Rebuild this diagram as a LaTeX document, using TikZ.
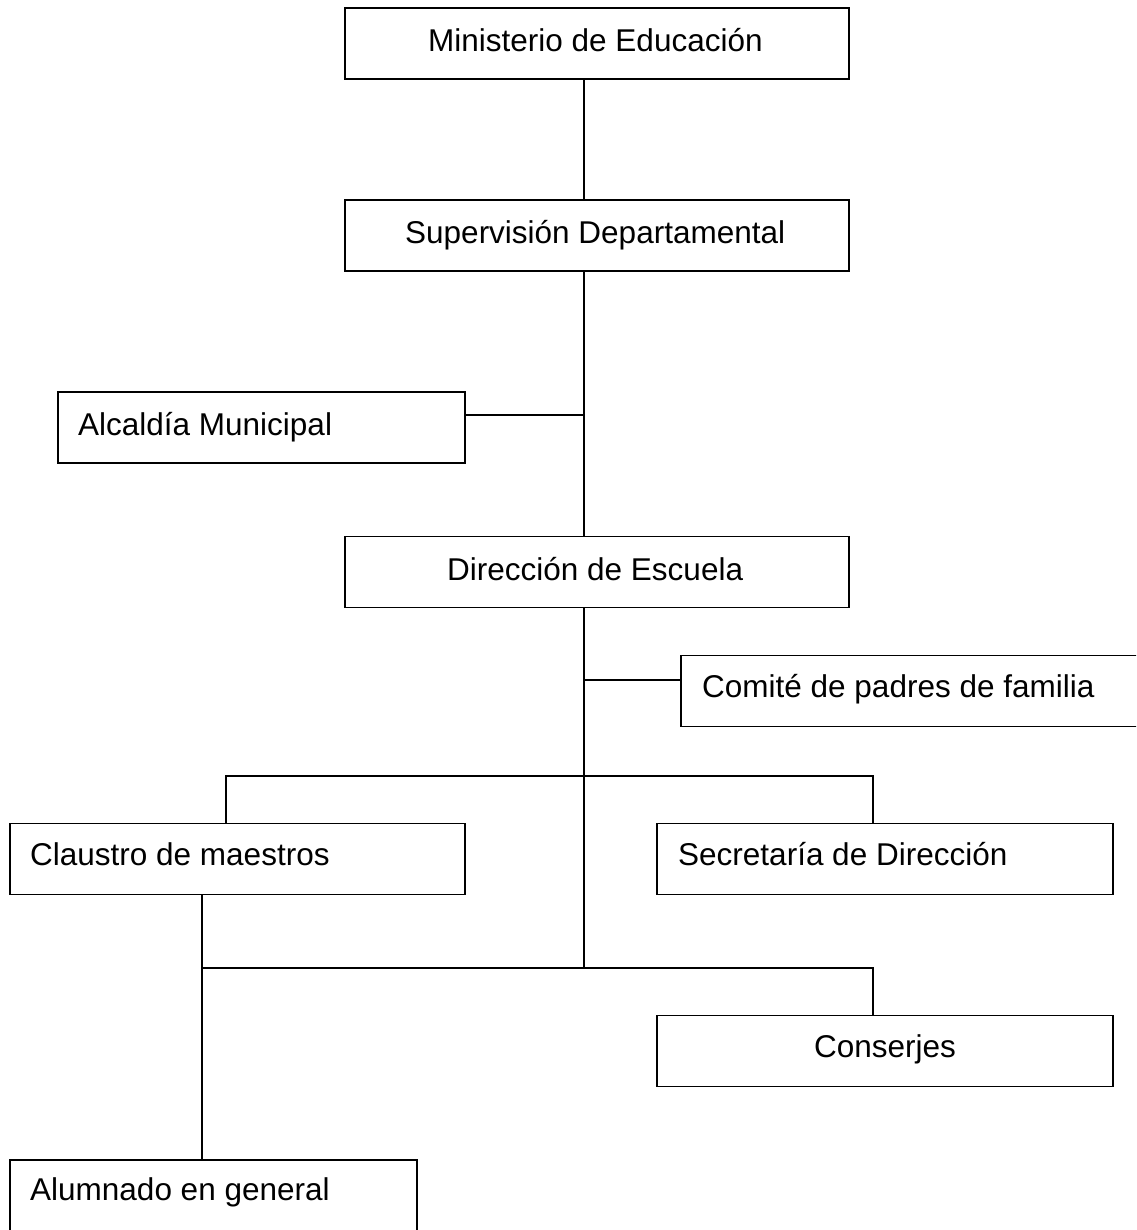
\documentclass[tikz,border=0pt]{standalone}
\usepackage{fontspec}
\setmainfont{Liberation Sans}
\usetikzlibrary{calc}
\begin{document}
\begin{tikzpicture}[x=1pt,y=-1pt,
  box/.style={draw,line width=1.6pt,inner sep=0pt,minimum height=71pt},
  lbl/.style={anchor=base west,inner sep=0pt,font=\fontsize{31.5}{36}\selectfont},
  conn/.style={line width=1.6pt}]
\clip (0,0) rectangle (1136,1230);
\fill[white] (0,0) rectangle (1136,1230);
% boxes
\node[box,minimum width=504pt] (min) at (597,43.5) {};
\node[box,minimum width=504pt] (sup) at (597,235.5) {};
\node[box,minimum width=407pt] (alc) at (261.5,427.5) {};
\node[box,minimum width=504pt] (dir) at (597,572) {};
\node[box,minimum width=480pt] (com) at (921,691) {};
\node[box,minimum width=455pt] (cla) at (237.5,859) {};
\node[box,minimum width=456pt] (sec) at (885,859) {};
\node[box,minimum width=456pt] (con) at (885,1051) {};
\node[box,minimum width=407pt,minimum height=80pt] (alu) at (213.5,1200) {};
% labels
\node[lbl] (tmin) at (428,52) {Ministerio de Educación};
\node[lbl] (tsup) at (405,244) {Supervisión Departamental};
\node[lbl] (talc) at (78,435) {Alcaldía Municipal};
\node[lbl] (tdir) at (447,580) {Dirección de Escuela};
\node[lbl] (tcom) at (702,697) {Comité de padres de familia};
\node[lbl] (tcla) at (30,865) {Claustro de maestros};
\node[lbl] (tsec) at (678,865) {Secretaría de Dirección};
\node[lbl] (tcon) at (814,1057) {Conserjes};
\node[lbl] (talu) at (30,1200) {Alumnado en general};
% connector coordinates
\coordinate (tx) at (584,0);
\coordinate (ax) at (202,0);
\coordinate (jalc) at (584,415);
\coordinate (jcom) at (584,680);
\coordinate (jbr) at (584,776);
\coordinate (jlow) at (584,968);
\coordinate (bl) at (226,776);
\coordinate (br) at (873,776);
\coordinate (ll) at (202,968);
\coordinate (lr) at (873,968);
% connectors
\draw[conn] (min.south -| tx) -- (sup.north -| tx);
\draw[conn] (sup.south -| tx) -- (dir.north -| tx);
\draw[conn] (alc.east |- jalc) -- (jalc);
\draw[conn] (dir.south -| tx) -- (jlow);
\draw[conn] (jcom) -- (com.west |- jcom);
\draw[conn] (cla.north -| bl) -- (bl) -- (br) -- (sec.north -| br);
\draw[conn] (cla.south -| ax) -- (alu.north -| ax);
\draw[conn] (ll) -- (lr) -- (con.north -| lr);
\end{tikzpicture}
\end{document}
